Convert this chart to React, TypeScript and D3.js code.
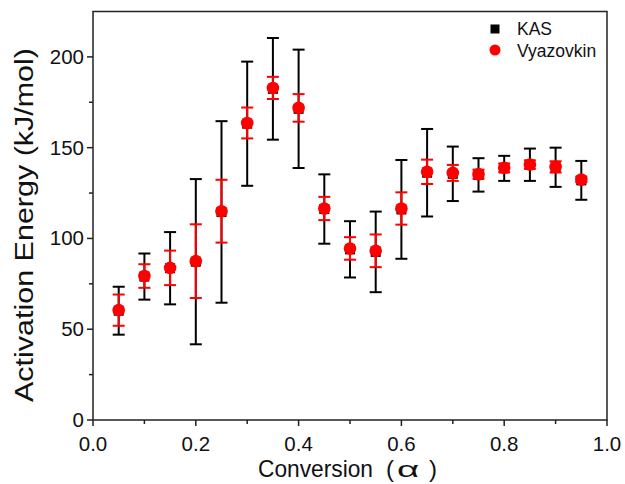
import React from "react";
import * as d3 from "d3";

const alpha = [0.05, 0.1, 0.15, 0.2, 0.25, 0.3, 0.35, 0.4, 0.45, 0.5, 0.55, 0.6, 0.65, 0.7, 0.75, 0.8, 0.85, 0.9, 0.95];
const kasEa = [60.2, 79.0, 83.6, 87.2, 114.6, 163.2, 182.4, 171.4, 116.2, 94.0, 92.6, 116.0, 136.2, 135.6, 135.0, 138.6, 140.6, 139.2, 132.0];
const kasErr = [13.2, 12.7, 19.9, 45.5, 50.0, 34.2, 28.0, 32.6, 19.1, 15.5, 22.2, 27.2, 24.1, 15.0, 9.2, 6.9, 8.9, 10.8, 10.7];
const vyazEa = [60.5, 79.3, 83.8, 87.5, 115.0, 163.6, 182.9, 171.9, 116.5, 94.5, 93.2, 116.5, 136.7, 136.1, 135.4, 138.9, 140.7, 139.4, 132.5];
const vyazErr = [8.6, 6.5, 9.5, 20.3, 17.3, 8.5, 6.1, 7.6, 6.4, 6.2, 9.0, 8.9, 6.7, 4.4, 2.5, 2.4, 2.3, 3.1, 1.5];
const xTicks = [0, 0.2, 0.4, 0.6, 0.8, 1.0];
const xMinor = [0.1, 0.3, 0.5, 0.7, 0.9];
const yTicks = [0, 50, 100, 150, 200];
const yMinor = [25, 75, 125, 175];
const seriesNames = ["KAS", "Vyazovkin"];

const W = 625, H = 484;
const left = 93, right = 607, top = 11.5, bottom = 420;
const FONT = "'Liberation Sans', Arial, sans-serif";

export default function App() {
  const x = d3.scaleLinear().domain([0, 1]).range([left, right]);
  const y = d3.scaleLinear().domain([0, 225]).range([bottom, top]);
  const cap = 6;

  const errBars = (vals: number[], errs: number[], color: string, key: string) =>
    alpha.map((a, i) => {
      const cx = x(a);
      const y1 = y(vals[i] + errs[i]);
      const y2 = y(vals[i] - errs[i]);
      return (
        <g key={key + i} stroke={color} strokeWidth={2}>
          <line x1={cx} x2={cx} y1={y1} y2={y2} />
          <line x1={cx - cap} x2={cx + cap} y1={y1} y2={y1} />
          <line x1={cx - cap} x2={cx + cap} y1={y2} y2={y2} />
        </g>
      );
    });

  return (
    <svg width={W} height={H} style={{ position: "absolute", left: 0, top: 0, background: "#fff" }} fontFamily={FONT}>
      {xTicks.map((t) => (
        <line key={"xt" + t} x1={x(t)} x2={x(t)} y1={bottom} y2={bottom + 6} stroke="#222" strokeWidth={1.5} />
      ))}
      {xMinor.map((t) => (
        <line key={"xm" + t} x1={x(t)} x2={x(t)} y1={bottom} y2={bottom + 4} stroke="#222" strokeWidth={1.5} />
      ))}
      {yTicks.map((t) => (
        <line key={"yt" + t} x1={left - 6} x2={left} y1={y(t)} y2={y(t)} stroke="#222" strokeWidth={1.5} />
      ))}
      {yMinor.map((t) => (
        <line key={"ym" + t} x1={left - 4} x2={left} y1={y(t)} y2={y(t)} stroke="#222" strokeWidth={1.5} />
      ))}
      {xTicks.map((t) => (
        <text key={"xl" + t} x={x(t)} y={450.5} textAnchor="middle" fontSize={20.5} fill="#111">
          {d3.format(".1f")(t)}
        </text>
      ))}
      {yTicks.map((t) => (
        <text key={"yl" + t} x={84} y={y(t) + 7} textAnchor="end" fontSize={20.5} fill="#111">
          {t}
        </text>
      ))}
      <rect x={left} y={top} width={right - left} height={bottom - top} fill="none" stroke="#222" strokeWidth={1.5} />

      {errBars(kasEa, kasErr, "#000", "ke")}
      {alpha.map((a, i) => (
        <rect key={"ks" + i} x={x(a) - 5} y={y(kasEa[i]) - 5} width={10} height={10} fill="#000" />
      ))}
      {errBars(vyazEa, vyazErr, "#ff0000", "ve")}
      {alpha.map((a, i) => (
        <circle key={"vc" + i} cx={x(a)} cy={y(vyazEa[i])} r={6.3} fill="#ff0000" />
      ))}

      <rect x={490.5} y={24.5} width={9} height={9} fill="#000" />
      <text x={517} y={35} fontSize={17.5} fill="#111">{seriesNames[0]}</text>
      <circle cx={495} cy={50} r={5.5} fill="#ff0000" />
      <text x={517} y={56.5} fontSize={17.5} fill="#111">{seriesNames[1]}</text>

      <text transform="translate(33,225) rotate(-90)" textAnchor="middle" fontSize={25} fill="#111"
        textLength={354} lengthAdjust="spacingAndGlyphs">
        Activation Energy (kJ/mol)
      </text>
      <text x={258} y={476.5} fontSize={24} fill="#111" textLength={115} lengthAdjust="spacingAndGlyphs">Conversion</text>
      <text x={386} y={476.5} fontSize={24} fill="#111">(</text>
      <text transform="translate(397,476.5) scale(1.75,1)" fontSize={22} fill="#111" fontWeight={300}>α</text>
      <text x={429} y={476.5} fontSize={24} fill="#111">)</text>
    </svg>
  );
}
